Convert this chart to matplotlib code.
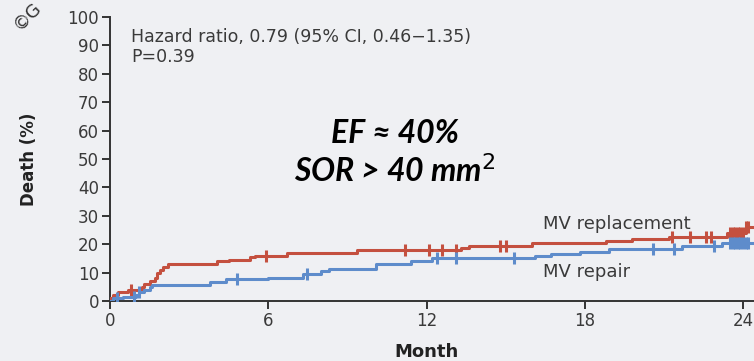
""" 
Kaplan-Meier style chart: death after MV repair vs MV replacement.
"""

import numpy as np
from matplotlib import pyplot as plt

# step curves (month, cumulative death %)
repl_month = [0, 0.1, 0.3, 0.7, 1.2, 1.3, 1.5, 1.7, 1.8, 1.9, 2.0, 2.2, 4.05, 4.5,
              5.3, 5.5, 6.7, 9.35, 13.3, 13.6, 16.0, 18.8, 19.8, 21.2, 23.4, 24.1, 24.4]
repl_death = [1, 2, 3, 4, 5, 6, 7, 8, 10, 11, 12, 13, 14, 14.5,
              15.5, 16, 17, 18, 18.6, 19.5, 20.3, 21.2, 21.8, 22.4, 24, 26, 26]

rep_month = [0, 0.1, 0.5, 1.0, 1.1, 1.3, 1.5, 1.6, 3.8, 4.4, 6.0, 7.3, 8.0, 8.3,
             10.1, 11.4, 12.2, 16.1, 16.7, 17.8, 18.9, 21.7, 23.2, 24.4]
rep_death = [0, 1, 1.5, 2, 3, 4, 5, 5.8, 6.8, 7.6, 8.2, 9.6, 10.6, 11.4,
             12.9, 14.1, 15.0, 15.8, 16.5, 17.4, 18.2, 19.4, 20.3, 20.3]

# censored observations
repl_cens = [0.8, 5.9, 11.2, 12.1, 12.6, 13.1, 14.8, 15.0, 21.3, 22.0, 22.6, 22.8,
             23.5, 23.6, 23.7, 23.8, 23.9, 24.0, 24.1, 24.2]
rep_cens = [0.25, 0.9, 1.1, 4.8, 7.45, 12.4, 13.1, 15.3, 20.6, 21.4, 22.9,
            23.5, 23.6, 23.7, 23.8, 23.9, 24.0, 24.1, 24.2]

x_ticks = [0, 6, 12, 18, 24]
y_ticks = list(range(0, 101, 10))

RED = "#c4503f"
BLUE = "#5e8ccb"
BG = "#eff0f3"
TXT = "#3a3a3a"


def step_value(months, deaths, t):
    idx = np.searchsorted(months, t, side="right") - 1
    return np.asarray(deaths)[idx]


def draw_curve(ax, months, deaths, cens, color):
    ax.step(months, deaths, where="post", color=color, lw=2.2, zorder=3)
    ys = step_value(months, deaths, cens)
    ax.plot(cens, ys, "|", color=color, ms=9, mew=2.2, zorder=3)


def main():
    plt.rcParams["font.family"] = ["DejaVu Sans"]
    fig = plt.figure(figsize=(7.54, 3.61), dpi=100, facecolor=BG)
    ax = fig.add_axes([0.1459, 0.1662, 0.8536, 0.7867])
    ax.set_facecolor(BG)

    draw_curve(ax, repl_month, repl_death, repl_cens, RED)
    draw_curve(ax, rep_month, rep_death, rep_cens, BLUE)

    ax.set_xlim(0, 24.4)
    ax.set_ylim(0, 100)
    ax.set_xticks(x_ticks)
    ax.set_yticks(y_ticks)
    for side in ("top", "right"):
        ax.spines[side].set_visible(False)
    for side in ("left", "bottom"):
        ax.spines[side].set_color("#333333")
        ax.spines[side].set_linewidth(1.4)
    ax.tick_params(colors="#333333", labelcolor=TXT, labelsize=12,
                   length=6, width=1.4, pad=2)

    ax.text(0.8, 93, "Hazard ratio, 0.79 (95% CI, 0.46\u22121.35)",
            fontsize=12.5, color=TXT, va="center")
    ax.text(0.8, 86, "P=0.39", fontsize=12.5, color=TXT, va="center")

    ax.text(10.8, 59, "EF \u2248 40%", family="Lato", fontsize=23,
            fontweight="bold", style="italic", ha="center", va="center")
    ax.text(10.8, 46, "SOR > 40 mm$^2$", family="Lato", fontsize=23,
            fontweight="bold", style="italic", ha="center", va="center")

    ax.text(16.4, 27, "MV replacement", fontsize=13, color=TXT, va="center")
    ax.text(16.4, 10.2, "MV repair", fontsize=13, color=TXT, va="center")

    ax.set_ylabel("Death (%)", fontsize=12, fontweight="bold",
                  color="#222222")
    ax.yaxis.set_label_coords(-0.112, 0.5)
    ax.set_xlabel("Month", fontsize=13, fontweight="bold", color="#222222",
                  va="center")
    ax.xaxis.set_label_coords(12 / 24.4, -0.178)

    fig.text(0.012, 0.955, "\u00a9G", fontsize=13, color="#333333",
             rotation=45, ha="left", va="center")

    fig.savefig("out.png", dpi=100, facecolor=BG)


if __name__ == "__main__":
    main()
